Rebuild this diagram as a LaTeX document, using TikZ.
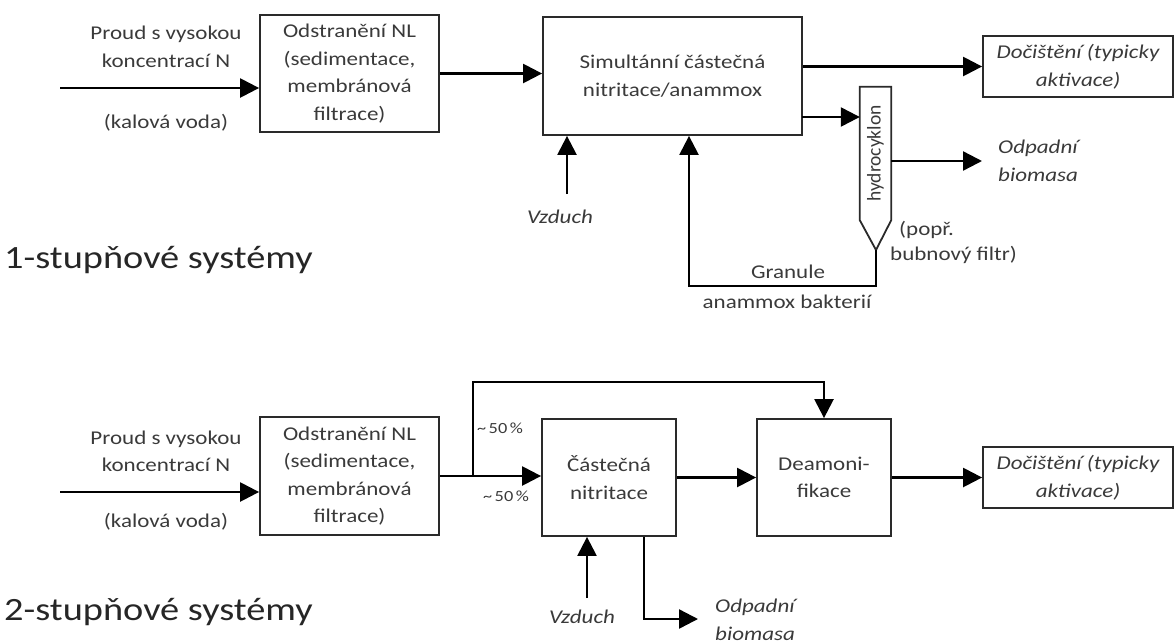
\documentclass[tikz,border=0pt]{standalone}
\usepackage{fontspec}
\setmainfont{Carlito}[FakeStretch=1.18]
\newfontfamily\plainfont{Carlito}
\usetikzlibrary{arrows.meta}
\definecolor{txtc}{HTML}{3A3A3A}
\definecolor{linec}{HTML}{2A2A2A}
\begin{document}
\begin{tikzpicture}[x=1pt,y=-1pt,
  lbl/.style={inner sep=0pt, align=center, text=txtc, font=\fontsize{19.5}{27.5}\selectfont},
  ilbl/.style={lbl, font=\fontsize{19.5}{27.5}\selectfont\itshape},
  smalllbl/.style={inner sep=0pt, text=txtc, font=\fontsize{15.5}{18}\selectfont},
  title/.style={inner sep=0pt, anchor=base west, text=black!85, font=\fontsize{32.5}{40}\selectfont},
  box/.style={draw=linec, line width=1.8pt, lbl},
  arr/.style={draw=black, line width=2.4pt, -{Triangle[length=19pt,width=19pt]}},
  ln/.style={draw=black, line width=2.4pt}]
\useasboundingbox (0,0) rectangle (1175,643);

% ---------- 1-stage ----------
\node[box, minimum width=179, minimum height=117] (a1) at (349.5,73.5) {Odstranění NL\\(sedimentace,\\membránová\\filtrace)};
\node[box, minimum width=259, minimum height=118] (a2) at (672.5,76) {Simultánní částečná\\nitritace/anammox};
\node[box, font=\fontsize{19.5}{27.5}\selectfont\itshape, minimum width=190, minimum height=61] (a3) at (1078,66.5) {Dočištění (typicky\\aktivace)};

\node[inner sep=0pt, minimum width=31, minimum height=133] (hc) at (875.5,153.5) {};
\coordinate (hctip) at (876,250);
\draw[draw=linec, line width=1.8pt, line join=miter] (hc.south west) -- (hc.north west) -- (hc.north east) -- (hc.south east) -- (hctip) -- cycle;
\node[lbl, font=\fontsize{19.5}{24}\plainfont, rotate=90] (hct) at (hc) {hydrocyklon};

\node[lbl] (p1) at (166,47) {Proud s vysokou\\koncentrací N};
\node[lbl] (k1) at (166,123) {(kalová voda)};
\coordinate (in1) at (60,88);
\draw[arr] (in1) -- (in1 -| a1.west);
\draw[arr] (a1.east) -- (a1.east -| a2.west);
\draw[arr] (a2.east |- a3.west) -- (a3.west);
\coordinate (s2) at (802,117);
\draw[arr] (s2) -- (s2 -| hc.west);

\node[ilbl, anchor=west, align=left] (ob1) at (998,161) {Odpadní\\biomasa};
\draw[arr] (hc.east |- ob1.west) -- ([xshift=-16pt]ob1.west);

\node[ilbl] (v1) at (560,217) {Vzduch};
\coordinate (v1s) at (567,194);
\draw[arr] (v1s) -- (v1s |- a2.south);

\coordinate (g1) at (689,286);
\draw[arr] (hctip) |- (g1) -- (g1 |- a2.south);
\node[lbl] (gl1) at (788,272) {Granule};
\node[lbl] (gl2) at (787,302) {anammox bakterií};
\node[lbl, anchor=west] (pp1) at (899,230) {(popř.};
\node[lbl, anchor=west] (pp2) at (890,255) {bubnový filtr)};

\node[title] (t1) at (4,268) {1-stupňové systémy};

% ---------- 2-stage ----------
\node[box, minimum width=179, minimum height=118] (b1) at (349.5,476) {Odstranění NL\\(sedimentace,\\membránová\\filtrace)};
\node[box, minimum width=134, minimum height=117] (b2) at (609,477.5) {Částečná\\nitritace};
\node[box, minimum width=134, minimum height=117] (b3) at (824,477.5) {Deamoni-\\fikace};
\node[box, font=\fontsize{19.5}{27.5}\selectfont\itshape, minimum width=190, minimum height=61] (b4) at (1078,477.5) {Dočištění (typicky\\aktivace)};

\node[lbl] (p2) at (166,451.5) {Proud s vysokou\\koncentrací N};
\node[lbl] (k2) at (166,522) {(kalová voda)};
\coordinate (in2) at (60,492);
\draw[arr] (in2) -- (in2 -| b1.west);

\coordinate (sp) at (473,476);
\coordinate (byp) at (473,382);
\draw[ln] (b1.east |- sp) -- (sp);
\draw[arr] (sp) -- (sp -| b2.west);
\draw[arr] (sp) -- (byp) -| (b3.north);
\draw[arr] (b2.east) -- (b3.west);
\draw[arr] (b3.east) -- (b4.west);

\node[smalllbl] (pc1) at (500,428) {\textasciitilde\,50\,\%};
\node[smalllbl] (pc2) at (506,496) {\textasciitilde\,50\,\%};

\node[ilbl] (v2) at (582,617) {Vzduch};
\coordinate (v2s) at (587,598);
\draw[arr] (v2s) -- (v2s |- b2.south);

\node[ilbl, anchor=west, align=left] (ob2) at (715,620) {Odpadní\\biomasa};
\coordinate (o2) at (644,619);
\draw[arr] (o2 |- b2.south) -- (o2) -- ([xshift=-17pt]ob2.west |- o2);

\node[title] (t2) at (4,620) {2-stupňové systémy};
\end{tikzpicture}
\end{document}
